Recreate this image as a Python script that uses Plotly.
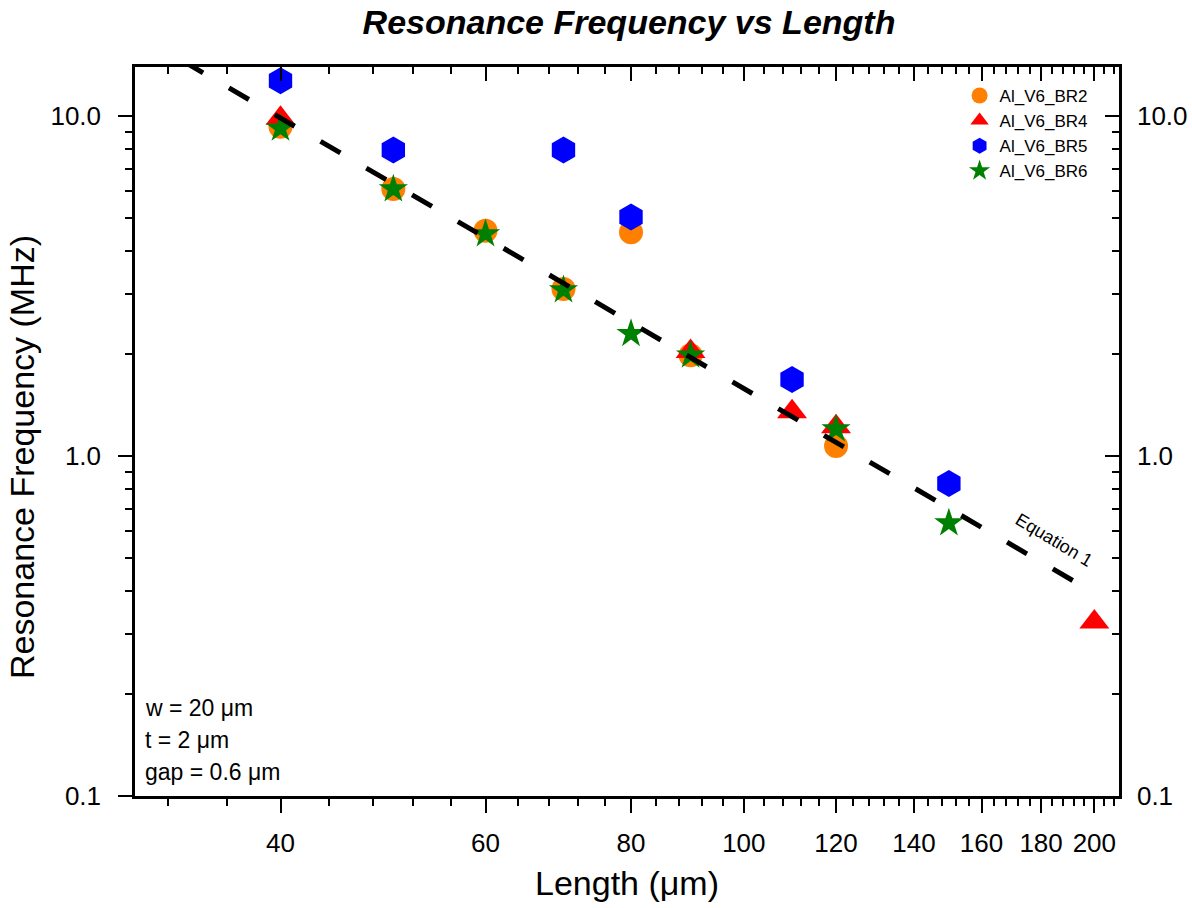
import plotly.graph_objects as go

# ---- data ----
len_br2 = [40, 50, 60, 70, 80, 90, 120]
freq_br2 = [9.3, 6.1, 4.6, 3.1, 4.55, 1.98, 1.07]

len_br4 = [40, 90, 110, 120, 200]
freq_br4 = [9.85, 2.03, 1.35, 1.22, 0.325]

len_br5 = [40, 50, 70, 80, 110, 150]
freq_br5 = [12.7, 7.95, 7.95, 5.05, 1.68, 0.83]

len_br6 = [40, 50, 60, 70, 80, 90, 120, 150]
freq_br6 = [9.2, 6.1, 4.5, 3.08, 2.29, 1.98, 1.2, 0.635]

eq_len = [33.0, 194.2]
eq_freq = [14.5, 0.419]

x_major = [40, 60, 80, 100, 120, 140, 160, 180, 200]
x_major_text = ["40", "60", "80", "100", "120", "140", "160", "180", "200"]
x_minor = [32, 36, 44, 48, 52, 56, 64, 68, 72, 76, 84, 88, 92, 96,
           104, 108, 112, 116, 124, 128, 132, 136, 144, 148, 152, 156,
           164, 168, 172, 176, 184, 188, 192, 196, 204, 208]
y_major = [0.1, 1, 10]
y_major_text = ["0.1", "1.0", "10.0"]
y_minor = [0.2, 0.3, 0.4, 0.5, 0.6, 0.7, 0.8, 0.9, 2, 3, 4, 5, 6, 7, 8, 9]

FONT = "Liberation Sans, Arial, sans-serif"
xr = [1.4771, 2.3222]
yr = [-1.0, 1.1443]

fig = go.Figure()
fig.add_trace(go.Scatter(x=len_br2, y=freq_br2, mode="markers", name="Al_V6_BR2",
                         marker=dict(symbol="circle", size=24, color="#FF8000",
                                     line=dict(width=0))))
fig.add_trace(go.Scatter(x=len_br4, y=freq_br4, mode="markers", name="Al_V6_BR4",
                         marker=dict(symbol="triangle-up", size=26, color="#FF0000",
                                     line=dict(width=0))))
fig.add_trace(go.Scatter(x=len_br5, y=freq_br5, mode="markers", name="Al_V6_BR5",
                         marker=dict(symbol="hexagon", size=27, color="#0000FF",
                                     line=dict(width=0))))
fig.add_trace(go.Scatter(x=len_br6, y=freq_br6, mode="markers", name="Al_V6_BR6",
                         marker=dict(symbol="star", size=22, color="#008000",
                                     line=dict(width=0))))
fig.add_trace(go.Scatter(x=eq_len, y=eq_freq, mode="lines", showlegend=False,
                         line=dict(color="black", width=5, dash="23px,30px")))

axis_common = dict(type="log", showgrid=False, zeroline=False, showline=True,
                   linecolor="black", linewidth=2.5, tickcolor="black", tickwidth=2,
                   automargin=False)

fig.update_layout(
    width=1192, height=908,
    margin=dict(l=135, r=73, t=67, b=112, autoexpand=False),
    paper_bgcolor="white", plot_bgcolor="white",
    font=dict(family=FONT, color="black"),
    title=dict(text="<b><i>Resonance Frequency vs Length</i></b>",
               x=0.5277, xanchor="center", y=0.9758, yanchor="middle",
               font=dict(size=34, family=FONT)),
    xaxis=dict(axis_common, range=xr, tickmode="array", tickvals=x_major,
               ticktext=x_major_text, ticks="outside", ticklen=14,
               tickfont=dict(size=26), ticklabelstandoff=8,
               minor=dict(tickmode="array", tickvals=x_minor, ticks="outside",
                          ticklen=7, tickwidth=2, tickcolor="black"),
               title=dict(text="Length (μm)", font=dict(size=34), standoff=15)),
    xaxis2=dict(axis_common, range=xr, overlaying="x", side="top", anchor="y",
                tickmode="array", tickvals=x_major, ticks="inside", ticklen=14,
                showticklabels=False,
                minor=dict(tickmode="array", tickvals=x_minor, ticks="inside",
                           ticklen=7, tickwidth=2, tickcolor="black")),
    yaxis=dict(axis_common, range=yr, tickmode="array", tickvals=y_major,
               ticktext=y_major_text, ticks="outside", ticklen=14,
               tickfont=dict(size=26), ticklabelstandoff=12,
               minor=dict(tickmode="array", tickvals=y_minor, ticks="outside",
                          ticklen=7, tickwidth=2, tickcolor="black")),
    yaxis2=dict(axis_common, range=yr, overlaying="y", side="right", anchor="x",
                tickmode="array", tickvals=y_major, ticktext=y_major_text,
                ticks="inside", ticklen=14, tickfont=dict(size=26),
                showticklabels=True, ticklabelstandoff=10,
                minor=dict(tickmode="array", tickvals=y_minor, ticks="inside",
                           ticklen=7, tickwidth=2, tickcolor="black")),
    legend=dict(x=0.838, y=0.985, xanchor="left", yanchor="top",
                bgcolor="rgba(0,0,0,0)", font=dict(size=17, family=FONT),
                itemwidth=30, tracegroupgap=0),
    showlegend=True,
)

# invisible helper trace so the mirror axes are drawn
fig.add_trace(go.Scatter(x=eq_len, y=eq_freq, xaxis="x2", yaxis="y2", mode="lines",
                         line=dict(width=0), opacity=0, showlegend=False,
                         hoverinfo="skip"))

# y-axis title as a rotated annotation for exact placement
fig.add_annotation(text="Resonance Frequency (MHz)", xref="paper", yref="paper",
                   x=-0.1148, y=0.465, xanchor="center", yanchor="middle",
                   showarrow=False, textangle=-90, font=dict(size=34, family=FONT))

notes = ["w = 20 μm", "t = 2 μm", "gap = 0.6 μm"]
note_y = [0.1207, 0.0768, 0.0329]
for txt, yy in zip(notes, note_y):
    fig.add_annotation(text=txt, xref="paper", yref="paper", x=0.008, y=yy,
                       xanchor="left", yanchor="middle", showarrow=False,
                       font=dict(size=23, family=FONT))

fig.add_annotation(text="Equation 1", xref="paper", yref="paper", x=0.934, y=0.351,
                   xanchor="center", yanchor="middle", showarrow=False,
                   textangle=31, font=dict(size=18, family=FONT))

fig.write_html("out.html", config={"displayModeBar": False},
               post_script="document.body.style.margin='0';document.body.style.overflow='hidden';")
